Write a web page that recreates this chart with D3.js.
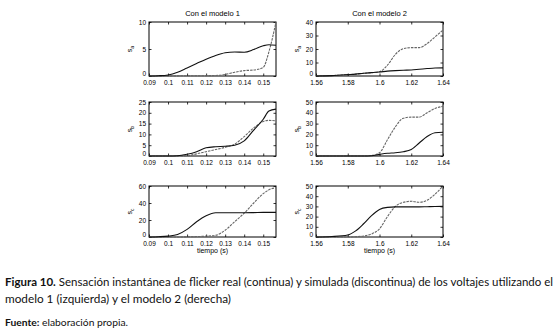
<!DOCTYPE html>
<html>
<head>
<meta charset="utf-8">
<script src="https://cdn.jsdelivr.net/npm/d3@7"></script>
<style>
  body { margin: 0; background: #fff; }
  svg { display: block; }
</style>
</head>
<body>
<svg id="fig"></svg>
<script>
// flicker panels: left = modelo 1, right = modelo 2
const tLeft = [0.09, 0.095, 0.1, 0.105, 0.11, 0.115, 0.12, 0.125, 0.13, 0.135, 0.14, 0.145, 0.15, 0.153, 0.1567];
const tRight = [1.56, 1.57, 1.58, 1.585, 1.59, 1.595, 1.6, 1.605, 1.61, 1.615, 1.62, 1.625, 1.63, 1.635, 1.64];

const saReal1 = [0, 0.05, 0.2, 0.7, 1.5, 2.3, 3.1, 3.8, 4.3, 4.45, 4.4, 4.9, 5.6, 5.8, 5.7];
const saSim1 = [0, 0, 0.02, 0.03, 0.05, 0.05, 0.06, 0.1, 0.3, 0.7, 1.0, 1.1, 1.6, 4.5, 10];
const saReal2 = [0, 0.3, 1, 1.4, 2, 2.5, 3, 3.6, 4, 4.3, 4.5, 5, 5.5, 5.9, 6];
const saSim2 = [0, 0.3, 1, 1.4, 2, 2.5, 3.2, 8, 16, 20.3, 21, 21, 24, 29, 34];

const sbReal1 = [0, 0, 0, 0.1, 0.8, 2, 3.8, 4.3, 4.5, 5, 7, 12, 17, 20.8, 21.7];
const sbSim1 = [0, 0, 0, 0, 0.1, 1, 2, 3, 4, 5.5, 9, 13, 16, 16.5, 16.3];
const sbReal2 = [0, 0, 0, 0, 0, 0.3, 1.5, 2.5, 3, 4, 6, 12, 18, 21.5, 22];
const sbSim2 = [0, 0, 0, 0, 0, 0.5, 3, 15, 27, 35, 36, 36, 40, 44, 46];

const scReal1 = [0, 0.3, 1, 3, 9, 18, 25, 28.5, 28.5, 28.5, 28.5, 28.7, 29, 29, 29];
const scSim1 = [0, 0, 0, 0, 0.2, 0.5, 1, 2, 8, 18, 28, 40, 51, 55.5, 58];
const scReal2 = [0, 0.5, 2, 6, 13, 21, 27, 29, 29.5, 29.5, 29.5, 29.5, 29.7, 29.9, 30];
const scSim2 = [0, 0, 0, 0.3, 1, 3, 8, 20, 30, 34, 35, 34, 36, 42, 50];

const titles = ["Con el modelo 1", "Con el modelo 2"];
const yNames = ["a", "b", "c"];
const xDomains = [[0.09, 0.1567], [1.56, 1.64]];
const xTicks = [[0.09, 0.1, 0.11, 0.12, 0.13, 0.14, 0.15], [1.56, 1.58, 1.6, 1.62, 1.64]];
const yMax = [[10, 40], [25, 50], [60, 50]];
const yTicks = [
  [[0, 5, 10], [0, 10, 20, 30, 40]],
  [[0, 5, 10, 15, 20, 25], [0, 10, 20, 30, 40, 50]],
  [[0, 20, 40, 60], [0, 10, 20, 30, 40, 50]]
];
const series = [
  [[saReal1, saSim1], [saReal2, saSim2]],
  [[sbReal1, sbSim1], [sbReal2, sbSim2]],
  [[scReal1, scSim1], [scReal2, scSim2]]
];

const W = 555, H = 329;
const svg = d3.select("#fig").attr("width", W).attr("height", H);

const cols = [[149, 276], [316, 443]];
const rows = [[22, 76], [102, 156], [186, 237]];
const tickFont = "Liberation Sans, Arial, sans-serif";

rows.forEach((ry, r) => {
  cols.forEach((cx, c) => {
    const t = c === 0 ? tLeft : tRight;
    const x = d3.scaleLinear().domain(xDomains[c]).range(cx);
    const y = d3.scaleLinear().domain([0, yMax[r][c]]).range([ry[1], ry[0]]);
    const g = svg.append("g");

    // ticks inside on all four sides, matlab style
    const axB = g.append("g").attr("transform", `translate(0,${ry[1]})`)
      .call(d3.axisBottom(x).tickValues(xTicks[c]).tickSize(-2.5).tickPadding(4)
        .tickFormat(d => d3.format("")(+d.toFixed(2))));
    const axT = g.append("g").attr("transform", `translate(0,${ry[0]})`)
      .call(d3.axisTop(x).tickValues(xTicks[c]).tickSize(-2.5).tickFormat(""));
    const axL = g.append("g").attr("transform", `translate(${cx[0]},0)`)
      .call(d3.axisLeft(y).tickValues(yTicks[r][c]).tickSize(-2.5).tickPadding(3));
    const axR = g.append("g").attr("transform", `translate(${cx[1]},0)`)
      .call(d3.axisRight(y).tickValues(yTicks[r][c]).tickSize(-2.5).tickFormat(""));
    [axB, axT, axL, axR].forEach(a => {
      a.select(".domain").remove();
      a.selectAll("line").attr("stroke", "#000").attr("stroke-width", 0.8);
      a.selectAll("text").attr("font-family", tickFont).attr("font-size", 6.5).attr("fill", "#000");
    });
    // lift the zero label a little so it clears the first x label
    axL.selectAll(".tick text").filter(d => d === 0).attr("dy", "-0.1em");

    g.append("rect")
      .attr("x", cx[0]).attr("y", ry[0])
      .attr("width", cx[1] - cx[0]).attr("height", ry[1] - ry[0])
      .attr("fill", "none").attr("stroke", "#000").attr("stroke-width", 1);

    const line = d3.line().curve(d3.curveMonotoneX)
      .x((d, i) => x(t[i])).y(d => y(d));

    const [real, sim] = series[r][c];
    g.append("path").datum(sim).attr("d", line)
      .attr("fill", "none").attr("stroke", "#666").attr("stroke-width", 1.1)
      .attr("stroke-dasharray", "2.5,1");
    g.append("path").datum(real).attr("d", line)
      .attr("fill", "none").attr("stroke", "#111").attr("stroke-width", 1.1);

    // y label
    const lab = g.append("text")
      .attr("transform", `translate(${cx[0] - 17},${(ry[0] + ry[1]) / 2}) rotate(-90)`)
      .attr("text-anchor", "middle")
      .attr("font-family", tickFont).attr("font-size", 7);
    lab.append("tspan").text("s");
    lab.append("tspan").attr("font-size", 5).attr("dy", 1.5).text(yNames[r]);

    if (r === 0) {
      g.append("text")
        .attr("x", (cx[0] + cx[1]) / 2).attr("y", 16)
        .attr("text-anchor", "middle")
        .attr("font-family", tickFont).attr("font-size", 7.5)
        .text(titles[c]);
    }
    if (r === 2) {
      g.append("text")
        .attr("x", (cx[0] + cx[1]) / 2).attr("y", 253)
        .attr("text-anchor", "middle")
        .attr("font-family", tickFont).attr("font-size", 7)
        .text("tiempo (s)");
    }
  });
});

// caption
const capFont = "Lato, 'Open Sans', sans-serif";
const cap1 = svg.append("text").attr("x", 5).attr("y", 286)
  .attr("font-family", capFont).attr("font-size", 11.5).attr("fill", "#111")
  .attr("textLength", 548).attr("lengthAdjust", "spacingAndGlyphs");
cap1.append("tspan").attr("font-weight", "bold").text("Figura 10.");
cap1.append("tspan").text(" Sensación instantánea de flicker real (continua) y simulada (discontinua) de los voltajes utilizando el");

svg.append("text").attr("x", 5).attr("y", 303)
  .attr("font-family", capFont).attr("font-size", 11.5).attr("fill", "#111")
  .attr("textLength", 226).attr("lengthAdjust", "spacingAndGlyphs")
  .text("modelo 1 (izquierda) y el modelo 2 (derecha)");

const cap3 = svg.append("text").attr("x", 5).attr("y", 326)
  .attr("font-family", capFont).attr("font-size", 9.5).attr("fill", "#111")
  .attr("textLength", 123).attr("lengthAdjust", "spacingAndGlyphs");
cap3.append("tspan").attr("font-weight", "bold").text("Fuente:");
cap3.append("tspan").text(" elaboración propia.");
</script>
</body>
</html>
